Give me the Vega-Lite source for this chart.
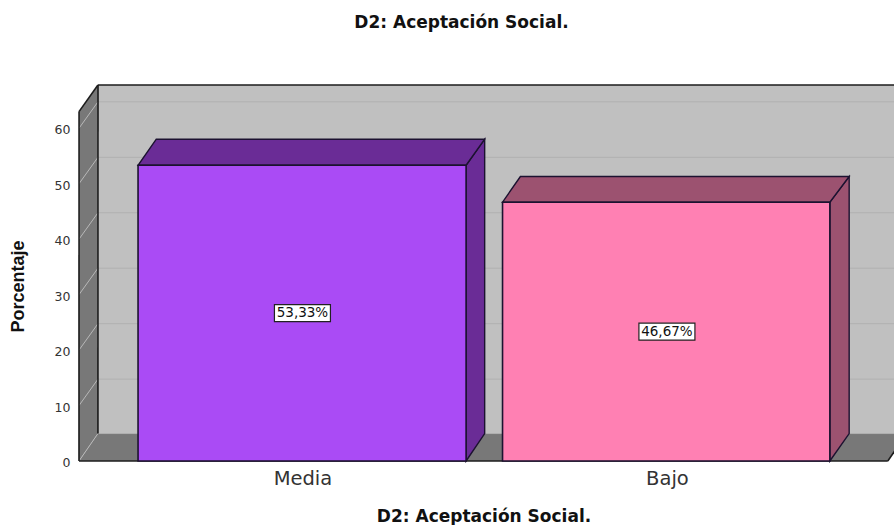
{
"$schema":"https://vega.github.io/schema/vega-lite/v6.json",
"width":815,"height":376,
"autosize":{"type":"none"},
"padding":{"left":79,"top":85,"right":0,"bottom":64},
"background":"white",
"title":{"text":"D2: Aceptación Social.","font":"DejaVu Sans","fontWeight":"bold","fontSize":17,"color":"#111","anchor":"middle","dx":-25,"offset":50,"frame":"group"},
"config":{"view":{"stroke":null}},
"datasets":{
"barras":[
{"categoria":"Media","cara":"Media frente","orden":1,"inicio":0.549,"fin":1.449,"valor":53.33,"mitad":26.67,"etiqueta":"53,33%"},
{"categoria":"Bajo","cara":"Bajo frente","orden":2,"inicio":1.549,"fin":2.447,"valor":46.67,"mitad":23.33,"etiqueta":"46,67%"}],
"fondo":[
{"cara":"Pared trasera","x":0.439,"v1":4.95,"v2":67.8},
{"cara":"Pared trasera","x":2.658,"v1":4.95,"v2":67.8},
{"cara":"Pared lateral","x":0.387,"v1":0,"v2":63},
{"cara":"Pared lateral","x":0.439,"v1":4.95,"v2":67.8},
{"cara":"Suelo","x":0.387,"v1":0,"v2":0},
{"cara":"Suelo","x":0.439,"v1":0,"v2":4.95},
{"cara":"Suelo","x":2.606,"v1":0,"v2":4.95},
{"cara":"Suelo","x":2.658,"v1":4.95,"v2":4.95}],
"caras":[
{"cara":"Media lado","x":1.449,"v1":0,"v2":53.33},
{"cara":"Media lado","x":1.5,"v1":4.95,"v2":58.03},
{"cara":"Media arriba","x":0.549,"v1":53.33,"v2":53.33},
{"cara":"Media arriba","x":0.599,"v1":53.33,"v2":58.03},
{"cara":"Media arriba","x":1.449,"v1":53.33,"v2":58.03},
{"cara":"Media arriba","x":1.5,"v1":58.03,"v2":58.03},
{"cara":"Bajo lado","x":2.447,"v1":0,"v2":46.67},
{"cara":"Bajo lado","x":2.5,"v1":4.95,"v2":51.3},
{"cara":"Bajo arriba","x":1.549,"v1":46.67,"v2":46.67},
{"cara":"Bajo arriba","x":1.598,"v1":46.67,"v2":51.3},
{"cara":"Bajo arriba","x":2.447,"v1":46.67,"v2":51.3},
{"cara":"Bajo arriba","x":2.5,"v1":51.3,"v2":51.3}],
"rejilla":[
{"linea":"t10","x":0.439,"v":14.76},{"linea":"t10","x":2.658,"v":14.76},
{"linea":"t20","x":0.439,"v":24.76},{"linea":"t20","x":2.658,"v":24.76},
{"linea":"t30","x":0.439,"v":34.76},{"linea":"t30","x":2.658,"v":34.76},
{"linea":"t40","x":0.439,"v":44.76},{"linea":"t40","x":2.658,"v":44.76},
{"linea":"t50","x":0.439,"v":54.76},{"linea":"t50","x":2.658,"v":54.76},
{"linea":"t60","x":0.439,"v":64.76},{"linea":"t60","x":2.658,"v":64.76},
{"linea":"tf","x":0.439,"v":4.95},{"linea":"tf","x":2.658,"v":4.95}],
"diagonales":[
{"linea":"d0","x":0.387,"v":0},{"linea":"d0","x":0.439,"v":4.95},
{"linea":"d10","x":0.387,"v":10},{"linea":"d10","x":0.439,"v":14.76},
{"linea":"d20","x":0.387,"v":20},{"linea":"d20","x":0.439,"v":24.76},
{"linea":"d30","x":0.387,"v":30},{"linea":"d30","x":0.439,"v":34.76},
{"linea":"d40","x":0.387,"v":40},{"linea":"d40","x":0.439,"v":44.76},
{"linea":"d50","x":0.387,"v":50},{"linea":"d50","x":0.439,"v":54.76},
{"linea":"d60","x":0.387,"v":60},{"linea":"d60","x":0.439,"v":64.76}],
"bordes":[
{"linea":"base","x":0.387,"v":0},{"linea":"base","x":2.606,"v":0},
{"linea":"dcha","x":2.606,"v":0},{"linea":"dcha","x":2.658,"v":4.95},
{"linea":"izq","x":0.387,"v":0},{"linea":"izq","x":0.3871,"v":63},
{"linea":"fondo","x":0.439,"v":4.95},{"linea":"fondo","x":0.4391,"v":67.8},
{"linea":"sup","x":0.387,"v":63},{"linea":"sup","x":0.439,"v":67.8},
{"linea":"tope","x":0.439,"v":67.8},{"linea":"tope","x":2.658,"v":67.8}]
},
"encoding":{
"x":{"type":"quantitative","scale":{"domain":[0.387,2.623],"nice":false,"zero":false}},
"y":{"type":"quantitative","scale":{"domain":[0,67.8],"nice":false,"zero":false}}
},
"layer":[
{"data":{"name":"fondo"},
 "mark":{"type":"area","orient":"vertical","clip":true,"interpolate":"linear"},
 "encoding":{
  "x":{"field":"x","type":"quantitative","axis":{"values":[1,2],"labelExpr":"datum.value==1?'Media':'Bajo'","domain":false,"ticks":false,"grid":false,"labelFont":"DejaVu Sans","labelFontSize":19.5,"labelColor":"#333","labelPadding":8,"labelFlush":false,"title":"D2: Aceptación Social.","titleFont":"DejaVu Sans","titleFontWeight":"bold","titleFontSize":17,"titleColor":"#111","titleX":404.5,"titleY":60,"titleAnchor":"middle","titleBaseline":"alphabetic"}},
  "y":{"field":"v1","type":"quantitative","axis":{"values":[0,10,20,30,40,50,60],"domain":false,"ticks":false,"grid":false,"labelFont":"DejaVu Sans","labelFontSize":12.5,"labelColor":"#333","labelPadding":9,"labelOffset":1.5,"title":"Porcentaje","titleFont":"Liberation Sans","titleFontWeight":"bold","titleFontSize":18,"titleColor":"#111","titleX":-52,"titleY":201,"titleAnchor":"middle"}},
  "y2":{"field":"v2"},
  "detail":{"field":"cara"},
  "color":{"field":"cara","type":"nominal","legend":null,"scale":{"domain":["Pared trasera","Pared lateral","Suelo","Media frente","Media lado","Media arriba","Bajo frente","Bajo lado","Bajo arriba"],"range":["#c0c0c0","#787878","#787878","#aa4bf5","#6a2c96","#6a2c96","#ff80b3","#9c5270","#9c5270"]}}
 }},
{"data":{"name":"rejilla"},"mark":{"type":"line","clip":true,"stroke":"#b0b0b0","strokeWidth":1},
 "encoding":{"x":{"field":"x","type":"quantitative"},"y":{"field":"v","type":"quantitative"},"detail":{"field":"linea"}}},
{"data":{"name":"diagonales"},"mark":{"type":"line","clip":true,"stroke":"#b8b8b8","strokeWidth":1},
 "encoding":{"x":{"field":"x","type":"quantitative"},"y":{"field":"v","type":"quantitative"},"detail":{"field":"linea"}}},
{"data":{"name":"bordes"},"mark":{"type":"line","clip":false,"stroke":"#1c1c1c","strokeWidth":1.6},
 "encoding":{"x":{"field":"x","type":"quantitative"},"y":{"field":"v","type":"quantitative"},"detail":{"field":"linea"}}},
{"data":{"name":"caras"},"mark":{"type":"area","orient":"vertical","stroke":"#1c1230","strokeWidth":1.4},
 "encoding":{"x":{"field":"x","type":"quantitative"},"y":{"field":"v1","type":"quantitative"},"y2":{"field":"v2"},"detail":{"field":"cara"},"color":{"field":"cara","type":"nominal","legend":null}}},
{"data":{"name":"barras"},"mark":{"type":"rect","stroke":"#1c1230","strokeWidth":1.6},
 "encoding":{"x":{"field":"inicio","type":"quantitative"},"x2":{"field":"fin"},"y":{"field":"valor","type":"quantitative"},"y2":{"datum":0},"color":{"field":"cara","type":"nominal","legend":null}}},
{"data":{"name":"barras"},"mark":{"type":"rect","width":56,"height":17,"fill":"white","stroke":"#222","strokeWidth":1.2},
 "encoding":{"x":{"field":"orden","type":"quantitative"},"y":{"field":"mitad","type":"quantitative"}}},
{"data":{"name":"barras"},"mark":{"type":"text","font":"DejaVu Sans","fontSize":13.5,"fill":"#111","align":"center","baseline":"middle"},
 "encoding":{"x":{"field":"orden","type":"quantitative"},"y":{"field":"mitad","type":"quantitative"},"text":{"field":"etiqueta"}}}
]
}
